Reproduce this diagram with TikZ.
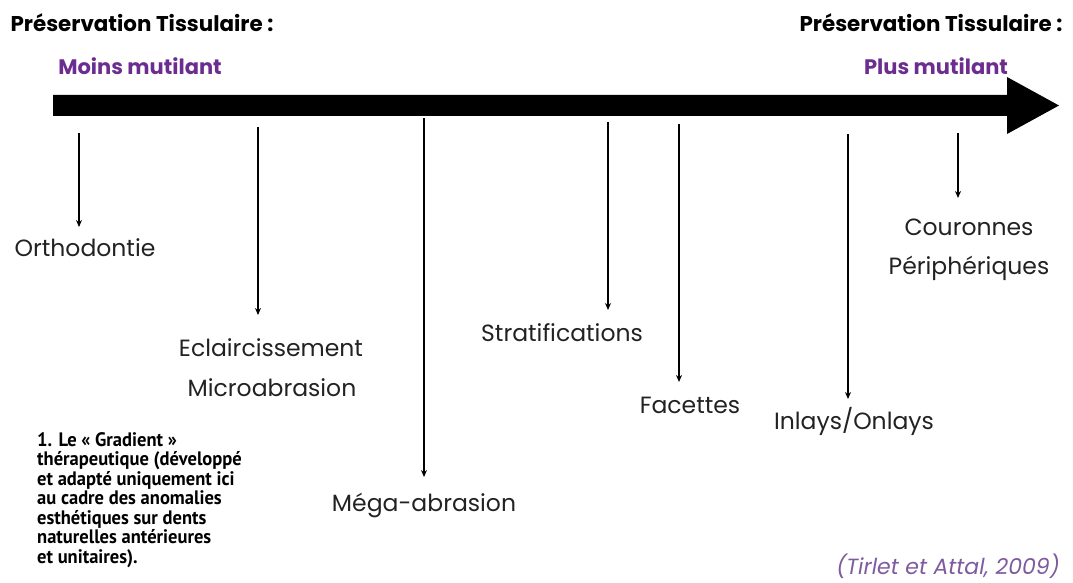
\documentclass[tikz,border=0pt]{standalone}
\usepackage{fontspec}
\setmainfont{Poppins}
\newfontfamily\capfont[FakeStretch=0.95]{PT Sans}
\usetikzlibrary{arrows.meta}
\definecolor{violetA}{HTML}{6B2D8F}
\definecolor{violetB}{HTML}{7E5A9E}
\definecolor{txt}{HTML}{222222}
\tikzset{
  lbl/.style={text=txt, font=\fontsize{23.5}{26}\selectfont, inner sep=0pt, anchor=center},
  hdr/.style={text=black, font=\fontsize{21.4}{24}\selectfont\bfseries, inner sep=0pt},
  sub/.style={text=violetA, font=\fontsize{21}{24}\selectfont\bfseries, inner sep=0pt},
  varrow/.style={line width=1.8pt, draw=black, -{Stealth[length=7pt,width=6pt]}},
}
\begin{document}
\begin{tikzpicture}[x=1pt,y=-1pt]
\useasboundingbox (0,0) rectangle (1073,583);
% main arrow
\fill[black] (53,95) -- (1007,95) -- (1007,77) -- (1059,105.5) -- (1007,134) -- (1007,116) -- (53,116) -- cycle;
% headers
\node[hdr] (hl) at (142,23) {Préservation Tissulaire :};
\node[sub] (ml) at (140,66) {Moins mutilant};
\node[hdr] (hr) at (931,23) {Préservation Tissulaire :};
\node[sub] (pl) at (936,66) {Plus mutilant};
% labels
\node[lbl] (ortho) at (85,248) {Orthodontie};
\node[lbl] (ecl) at (271,348) {Eclaircissement};
\node[lbl] (micro) at (272,388) {Microabrasion};
\node[lbl] (mega) at (424,505) {Méga-abrasion};
\node[lbl] (strat) at (562,333) {Stratifications};
\node[lbl] (fac) at (690,405) {Facettes};
\node[lbl] (cour) at (969,227) {Couronnes};
\node[lbl] (peri) at (969,268) {Périphériques};
\node[lbl] (inl) at (854,421) {Inlays/Onlays};
% arrow coordinates
\coordinate (s1) at (79,133);  \coordinate (e1) at (79,227);
\coordinate (s2) at (258,127); \coordinate (e2) at (258,315);
\coordinate (s3) at (424,118); \coordinate (e3) at (424,477);
\coordinate (s4) at (608,122); \coordinate (e4) at (608,310);
\coordinate (s5) at (679,124); \coordinate (e5) at (679,382);
\coordinate (s6) at (848,134); \coordinate (e6) at (848,399);
\coordinate (s7) at (958,133); \coordinate (e7) at (958,198);
\foreach \i in {1,...,7} { \draw[varrow] (s\i) -- (e\i); }
% caption
\node[anchor=north west, inner sep=0pt, align=left, text=black,
  font=\capfont\bfseries\fontsize{19.5}{19.5}\selectfont] (cap) at (37,432)
  {1. Le « Gradient »\\thérapeutique (développé\\et adapté uniquement ici\\au cadre des anomalies\\esthétiques sur dents\\naturelles antérieures\\et unitaires).};
% citation
\node[inner sep=0pt, text=violetB, font=\fontsize{22}{24}\selectfont\itshape] (cit) at (948,566) {(Tirlet et Attal, 2009)};
\end{tikzpicture}
\end{document}
